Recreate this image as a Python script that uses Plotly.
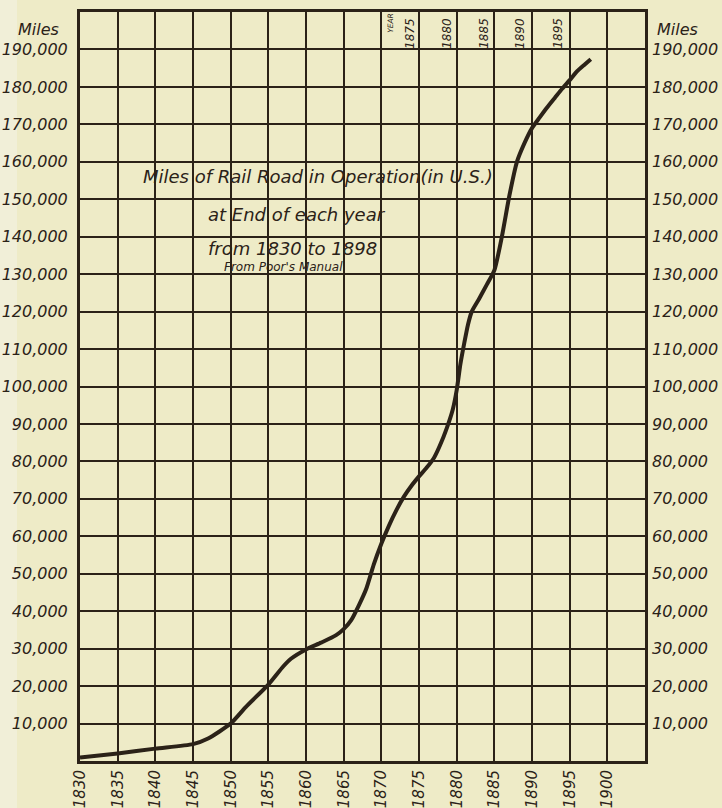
import plotly.graph_objects as go

# === data ===
years = [1830, 1835, 1840, 1845, 1847, 1850, 1852, 1855, 1857, 1858,
         1860, 1862, 1864, 1865, 1866, 1867, 1868, 1869, 1870, 1871,
         1872, 1873, 1874, 1875, 1876, 1877, 1878, 1879, 1879.5, 1880,
         1880.5, 1881, 1881.5, 1882, 1883, 1884, 1885, 1886, 1887, 1888,
         1889, 1890, 1891, 1892, 1893, 1894, 1895, 1896, 1897, 1897.8]
miles = [900, 2000, 3300, 4500, 6000, 10000, 14400, 20400, 25300, 27300,
         29800, 31600, 33600, 35200, 37600, 41500, 46000, 52500, 58000, 62800,
         67000, 70600, 73500, 76000, 78300, 81000, 85300, 90700, 94000, 99000,
         106000, 111500, 116500, 120000, 123500, 127200, 131000, 140000, 151000, 160000,
         165000, 169000, 171800, 174500, 177000, 179500, 181800, 184200, 186000, 187400]

x_ticks = list(range(1830, 1905, 5))
y_ticks = list(range(10000, 200000, 10000))
y_labels = [f"{v:,}" for v in y_ticks]

top_years = ["1875", "1880", "1885", "1890", "1895"]
top_pos = [1873.8, 1878.7, 1883.6, 1888.4, 1893.4]

title_lines = ["Miles of Rail Road in Operation(in U.S.)",
               "at End of each year",
               "from 1830 to 1898",
               "From Poor's Manual"]
title_x = [1861.6, 1858.8, 1858.2, 1857.0]
title_y = [156200, 145800, 136900, 131800]
title_size = [18, 18, 18, 12]

# === style ===
INK = "#2b2218"
PAPER = "#eeebc7"
FONT = "DejaVu Sans"

fig = go.Figure()
fig.add_trace(go.Scatter(
    x=years, y=miles, mode="lines",
    line=dict(color=INK, width=4, shape="spline", smoothing=0.6),
    hoverinfo="skip", showlegend=False,
))
# same data on the right axis so that axis gets drawn (invisible line)
fig.add_trace(go.Scatter(
    x=years, y=miles, mode="lines", yaxis="y2",
    line=dict(color="rgba(0,0,0,0)", width=0),
    hoverinfo="skip", showlegend=False,
))

tick_font = dict(family=FONT, size=16, color=INK, style="italic")

fig.update_layout(
    width=722, height=808,
    margin=dict(l=80, r=77, t=12, b=47, autoexpand=False),
    paper_bgcolor=PAPER, plot_bgcolor=PAPER,
    xaxis=dict(
        range=[1830, 1905], tickmode="array", tickvals=x_ticks,
        ticktext=[str(v) for v in x_ticks], tickangle=-90,
        tickfont=dict(family=FONT, size=15, color=INK, style="italic"),
        ticks="", ticklabelstandoff=0, automargin=False,
        showgrid=True, gridcolor=INK, gridwidth=2,
        showline=True, linecolor=INK, linewidth=3, mirror=True,
        zeroline=False, fixedrange=True,
    ),
    yaxis=dict(
        range=[0, 200000], tickmode="array", tickvals=y_ticks, ticktext=y_labels,
        tickfont=tick_font, ticks="", ticklabelstandoff=6, automargin=False,
        showgrid=True, gridcolor=INK, gridwidth=2,
        showline=True, linecolor=INK, linewidth=3, mirror=True,
        zeroline=False, fixedrange=True,
    ),
    yaxis2=dict(
        range=[0, 200000], overlaying="y", side="right",
        tickmode="array", tickvals=y_ticks, ticktext=y_labels,
        tickfont=tick_font, ticks="", ticklabelstandoff=6, automargin=False,
        showgrid=False, zeroline=False, showline=False, fixedrange=True,
    ),
)

# lighter strip along the left edge of the scanned page
fig.add_shape(type="rect", xref="paper", yref="paper",
              x0=-80 / 565, x1=-63 / 565, y0=-47 / 749, y1=1 + 12 / 749,
              fillcolor="#f1efd8", line_width=0, layer="below")

# "Miles" headers over both scales
for xp in [-0.074, 1.057]:
    fig.add_annotation(x=xp, xref="paper", y=195300, yref="y", text="Miles",
                       showarrow=False, xanchor="center", yanchor="middle",
                       font=dict(family=FONT, size=16, color=INK, style="italic"))

# year marks written along the top row
for txt, xp in zip(top_years, top_pos):
    fig.add_annotation(x=xp, y=194400, text=txt, textangle=-90, showarrow=False,
                       font=dict(family=FONT, size=12, color=INK, style="italic"))
fig.add_annotation(x=1871.2, y=197200, text="YEAR", textangle=-90, showarrow=False,
                   font=dict(family=FONT, size=7.5, color=INK, style="italic"))

# chart caption
for txt, xp, yp, sz in zip(title_lines, title_x, title_y, title_size):
    fig.add_annotation(x=xp, y=yp, text=txt, showarrow=False,
                       xanchor="center", yanchor="middle",
                       font=dict(family=FONT, size=sz, color=INK, style="italic"))

# page body margin would shift the fixed-size figure by 8px
fig.write_html("out.html", config={"displayModeBar": False},
               post_script="document.body.style.margin='0';")
